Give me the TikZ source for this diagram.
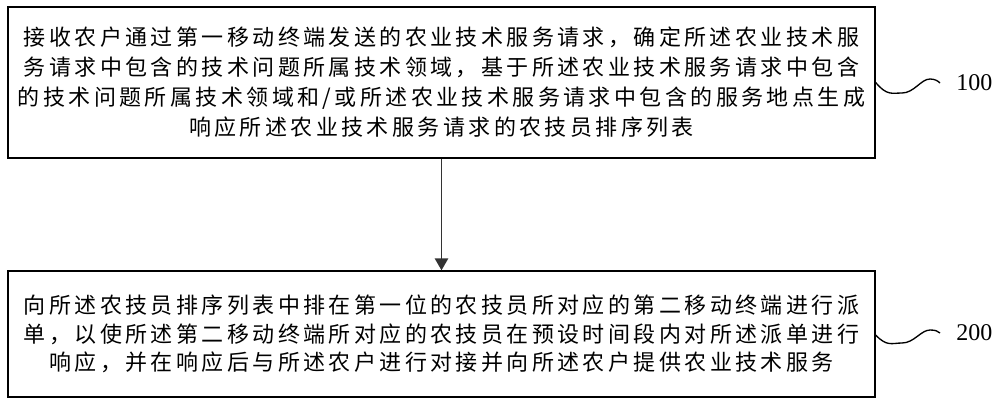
\documentclass[tikz,border=0pt]{standalone}
\usepackage{fontspec}
\setmainfont{Liberation Serif}
\newfontfamily\cjk[LetterSpace=15.5]{Noto Sans CJK SC}
\usetikzlibrary{arrows.meta}
\tikzset{
  stepbox/.style={draw=black, line width=1pt, minimum width=650.25pt, align=center, inner sep=0pt, font=\cjk\fontsize{16.5pt}{22.5pt}\selectfont},
  flowarrow/.style={draw=black!80, line width=1.3pt, -{Triangle[width=10pt,length=9pt]}},
  squig/.style={draw=black, line width=1pt},
  reflabel/.style={anchor=west, inner sep=0pt, font=\fontsize{18pt}{20pt}\selectfont}
}
\begin{document}
\begin{tikzpicture}[x=0.75pt, y=-0.75pt]
\useasboundingbox (0,0) rectangle (1000,408);
\node[stepbox, minimum height=113.25pt] (b1) at (441.5,82.5) {接收农户通过第一移动终端发送的农业技术服务请求，确定所述农业技术服\\
务请求中包含的技术问题所属技术领域，基于所述农业技术服务请求中包含\\
的技术问题所属技术领域和/或所述农业技术服务请求中包含的服务地点生成\\
响应所述农业技术服务请求的农技员排序列表};
\node[stepbox, minimum height=94.5pt, font=\cjk\fontsize{16.5pt}{21.5pt}\selectfont] (b2) at (441.5,334) {向所述农技员排序列表中排在第一位的农技员所对应的第二移动终端进行派\\
单，以使所述第二移动终端所对应的农技员在预设时间段内对所述派单进行\\
响应，并在响应后与所述农户进行对接并向所述农户提供农业技术服务};
\draw[flowarrow] (b1.south) -- (b2.north);
\node[reflabel] (l1) at (956,83) {100};
\node[reflabel] (l2) at (956,333) {200};
\coordinate (e1) at (940,83);
\coordinate (e2) at (940,333);
\draw[squig] (b1.east) .. controls (887,96) and (892,93) .. (902,93) .. controls (914,93) and (921,79) .. (930,79) .. controls (935,79) and (938,81) .. (e1);
\draw[squig] (b2.east |- 0,335) .. controls (887,347) and (892,343) .. (902,343) .. controls (914,343) and (921,330) .. (930,330) .. controls (935,330) and (938,331) .. (e2);
\end{tikzpicture}
\end{document}
